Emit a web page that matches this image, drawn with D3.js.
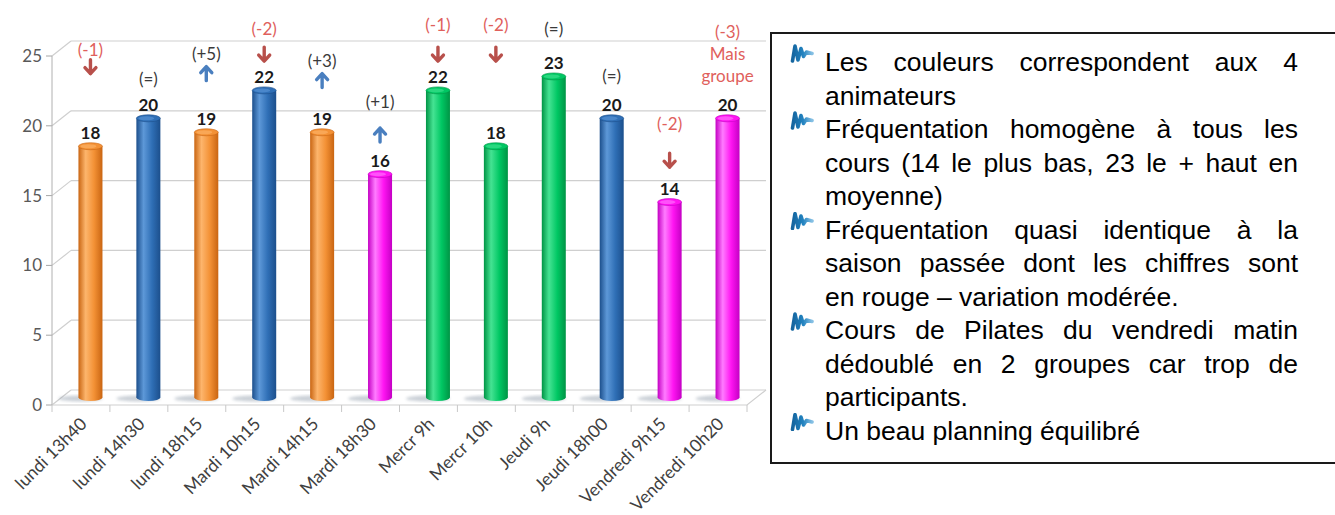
<!DOCTYPE html>
<html>
<head>
<meta charset="utf-8">
<script src="https://cdn.jsdelivr.net/npm/d3@7"></script>
<style>
  body { margin: 0; background: #fff; }
</style>
</head>
<body>
<div id="chart"></div>
<script>
// cours de la semaine et fréquentation moyenne
const categories = ["lundi 13h40", "lundi 14h30", "lundi 18h15", "Mardi 10h15", "Mardi 14h15", "Mardi 18h30",
  "Mercr 9h", "Mercr 10h", "Jeudi 9h", "Jeudi 18h00", "Vendredi 9h15", "Vendredi 10h20"]
const values = [18, 20, 19, 22, 19, 16, 22, 18, 23, 20, 14, 20]
// animateur de chaque cours (une couleur par animateur)
const animateurs = ["A", "B", "A", "B", "A", "C", "D", "D", "D", "B", "C", "C"]
// variation par rapport a la saison passee
const variations = [["(-1)"], ["(=)"], ["(+5)"], ["(-2)"], ["(+3)"], ["(+1)"], ["(-1)"], ["(-2)"], ["(=)"], ["(=)"], ["(-2)"], ["(-3)", "Mais", "groupe"]]
const variationLevels = [24.9, 22.8, 24.6, 26.4, 24.1, 21.2, 26.7, 26.7, 26.4, 23.0, 19.6, 26.2]
const arrows = ["down", "", "up", "down", "up", "up", "down", "down", "", "", "down", ""]
const arrowLevels = [23.7, null, 23.2, 24.6, 22.7, 18.8, 24.6, 24.6, null, null, 17.0, null]
const yTicks = [0, 5, 10, 15, 20, 25]

const bullets = [
  ["Les couleurs correspondent aux 4", "animateurs"],
  ["Fréquentation homogène à tous les", "cours (14 le plus bas, 23 le + haut en", "moyenne)"],
  ["Fréquentation quasi identique à la", "saison passée dont les chiffres sont", "en rouge – variation modérée."],
  ["Cours de Pilates du vendredi matin", "dédoublé en 2 groupes car trop de", "participants."],
  ["Un beau planning équilibré"]
]

let width = 1335
let height = 515
let chartFont = "Lato, 'Open Sans', sans-serif"

let svg = d3.select("#chart").append("svg")
  .attr("width", width)
  .attr("height", height)

let x = d3.scaleBand().domain(categories).range([52, 747])
let y = d3.scaleLinear().domain([0, 25]).range([405, 56])
let bw = x.bandwidth()
// 3d depth: back wall and middle of the floor
let backX = 19, backY = -15
let midX = 9.5, midY = -7.5

let palette = {
  A: ["#c96512", "#fdb56c", "#f39135"],
  B: ["#1c4f8c", "#5d98d8", "#2f6fb6"],
  C: ["#c400c4", "#ff7cff", "#ff14f2"],
  D: ["#009445", "#45e393", "#00c763"]
}

let defs = svg.append("defs")
Object.keys(palette).forEach(function(k) {
  let g = defs.append("linearGradient").attr("id", "grad-" + k)
  let c = palette[k]
  g.append("stop").attr("offset", "0%").attr("stop-color", c[0])
  g.append("stop").attr("offset", "30%").attr("stop-color", c[1])
  g.append("stop").attr("offset", "65%").attr("stop-color", c[2])
  g.append("stop").attr("offset", "100%").attr("stop-color", c[0])
})
let ig = defs.append("linearGradient").attr("id", "icon-grad")
ig.append("stop").attr("offset", "0%").attr("stop-color", "#16659f")
ig.append("stop").attr("offset", "55%").attr("stop-color", "#2283c0")
ig.append("stop").attr("offset", "100%").attr("stop-color", "#86c0e4")
defs.append("filter").attr("id", "blur").append("feGaussianBlur").attr("stdDeviation", 1.5)
defs.append("filter").attr("id", "soft").append("feGaussianBlur").attr("stdDeviation", 0.5)

// back wall gridlines + left side
let grid = svg.append("g")
yTicks.forEach(function(t) {
  grid.append("line")
    .attr("x1", 52 + backX).attr("x2", 747 + backX)
    .attr("y1", y(t) + backY).attr("y2", y(t) + backY)
    .attr("stroke", "#cfcfcf").attr("stroke-width", 1.2)
  grid.append("line")
    .attr("x1", 52).attr("x2", 52 + backX)
    .attr("y1", y(t)).attr("y2", y(t) + backY)
    .attr("stroke", "#cfcfcf").attr("stroke-width", 1.2)
  grid.append("line")
    .attr("x1", 46).attr("x2", 52)
    .attr("y1", y(t)).attr("y2", y(t))
    .attr("stroke", "#a6a6a6")
  grid.append("text")
    .attr("x", 42).attr("y", y(t) + 6)
    .attr("text-anchor", "end")
    .style("font-family", chartFont)
    .style("font-size", "17px")
    .style("fill", "#595959")
    .text(t)
})
grid.append("line")
  .attr("x1", 52).attr("x2", 52).attr("y1", y(25)).attr("y2", y(0))
  .attr("stroke", "#b0b0b0")
// floor front edge + right side
grid.append("path")
  .attr("d", "M52," + y(0) + "L747," + y(0) + "L" + (747 + backX) + "," + (y(0) + backY))
  .attr("fill", "none").attr("stroke", "#cfcfcf").attr("stroke-width", 1.2)
d3.range(13).forEach(function(i) {
  let tx = 52 + i * bw
  grid.append("line")
    .attr("x1", tx).attr("x2", tx).attr("y1", y(0)).attr("y2", y(0) + 7)
    .attr("stroke", "#c8c8c8")
})

// shadows on the floor
svg.append("g").selectAll("ellipse")
  .data(categories)
  .enter().append("ellipse")
  .attr("cx", function(d) { return x(d) + bw / 2 + midX - 10 })
  .attr("cy", y(0) + midY + 1)
  .attr("rx", 22).attr("ry", 3)
  .attr("fill", "#8a97a6").attr("opacity", 0.45)
  .attr("filter", "url(#blur)")

// cylinders
let bars = svg.append("g").selectAll("g")
  .data(categories)
  .enter().append("g")
bars.each(function(d, i) {
  let g = d3.select(this)
  let cx = x(d) + bw / 2 + midX
  let top = y(values[i]) + midY
  let bottom = y(0) + midY
  let fill = "url(#grad-" + animateurs[i] + ")"
  g.append("ellipse").attr("cx", cx).attr("cy", bottom).attr("rx", 12).attr("ry", 3.5).attr("fill", fill)
  g.append("rect").attr("x", cx - 12).attr("y", top).attr("width", 24).attr("height", bottom - top).attr("fill", fill)
  g.append("ellipse").attr("cx", cx).attr("cy", top).attr("rx", 12).attr("ry", 3.5)
    .attr("fill", palette[animateurs[i]][2]).attr("stroke", palette[animateurs[i]][0]).attr("stroke-width", 0.6)
  g.append("ellipse").attr("cx", cx - 2).attr("cy", top).attr("rx", 8).attr("ry", 2)
    .attr("fill", palette[animateurs[i]][1]).attr("opacity", 0.6)
})

// value labels
svg.append("g").selectAll("text")
  .data(categories)
  .enter().append("text")
  .attr("x", function(d) { return x(d) + bw / 2 + midX })
  .attr("y", function(d, i) { return y(values[i]) + midY - 7 })
  .attr("text-anchor", "middle")
  .style("font-family", chartFont)
  .style("font-weight", "bold")
  .style("font-size", "17px")
  .style("fill", "#1a1a1a")
  .text(function(d, i) { return values[i] })

// variation notes and arrows
let notes = svg.append("g")
categories.forEach(function(d, i) {
  let cx = x(d) + bw / 2 + midX
  let red = variations[i][0].indexOf("(-") === 0
  variations[i].forEach(function(line, j) {
    notes.append("text")
      .attr("x", cx)
      .attr("y", y(variationLevels[i]) + midY + 6 + j * 22)
      .attr("text-anchor", "middle")
      .style("font-family", chartFont)
      .style("font-size", "17px")
      .style("fill", red ? "#e0605c" : "#3a3a3a")
      .text(line)
  })
  if (arrows[i] !== "") {
    let ay = y(arrowLevels[i]) + midY
    let dir = arrows[i] === "down" ? 1 : -1
    let col = arrows[i] === "down" ? "#b8504b" : "#4a7fbf"
    notes.append("path")
      .attr("d", "M" + cx + "," + (ay - 7 * dir) + "L" + cx + "," + (ay + 7 * dir) +
        "M" + (cx - 5.5) + "," + (ay + 1 * dir) + "L" + cx + "," + (ay + 7 * dir) + "L" + (cx + 5.5) + "," + (ay + 1 * dir))
      .attr("fill", "none").attr("stroke", col).attr("stroke-width", 3.4)
      .attr("stroke-linecap", "round").attr("stroke-linejoin", "round")
  }
})

// x labels
svg.append("g").selectAll("text")
  .data(categories)
  .enter().append("text")
  .attr("transform", function(d) { return "translate(" + (x(d) + bw / 2 + 7) + ",425) rotate(-45)" })
  .attr("text-anchor", "end")
  .style("font-family", chartFont)
  .style("font-size", "17.5px")
  .style("fill", "#404040")
  .text(function(d) { return d })

// comment box
svg.append("rect")
  .attr("x", 771).attr("y", 33).attr("width", 600).attr("height", 430)
  .attr("fill", "none").attr("stroke", "#1a1a1a").attr("stroke-width", 2)

let textLeft = 825, textRight = 1298
let lineY = 71, pitch = 33.5
let box = svg.append("g")
  .style("font-family", "'Liberation Sans', Arial, sans-serif")
  .style("font-size", "26.5px")
  .style("fill", "#000")
bullets.forEach(function(lines) {
  box.append("path")
    .attr("transform", "translate(791," + (lineY - 27) + ")")
    .attr("d", "M1.5,17L4,2L7,16L10,4.5L12.5,12.5L15.5,8L21,9.5")
    .attr("fill", "none").attr("stroke", "url(#icon-grad)").attr("stroke-width", 3.6)
    .attr("stroke-linejoin", "round").attr("stroke-linecap", "round")
    .attr("filter", "url(#soft)")
  lines.forEach(function(line, j) {
    let t = box.append("text").attr("y", lineY)
    let words = line.split(" ")
    if (j === lines.length - 1 || words.length < 2) {
      t.attr("x", textLeft).text(line)
    } else {
      let spans = words.map(function(w) { return t.append("tspan").text(w) })
      let widths = spans.map(function(s) { return s.node().getComputedTextLength() })
      let gap = (textRight - textLeft - d3.sum(widths)) / (words.length - 1)
      let cur = textLeft
      spans.forEach(function(s, k) {
        s.attr("x", cur)
        cur += widths[k] + gap
      })
    }
    lineY += pitch
  })
})
</script>
</body>
</html>
